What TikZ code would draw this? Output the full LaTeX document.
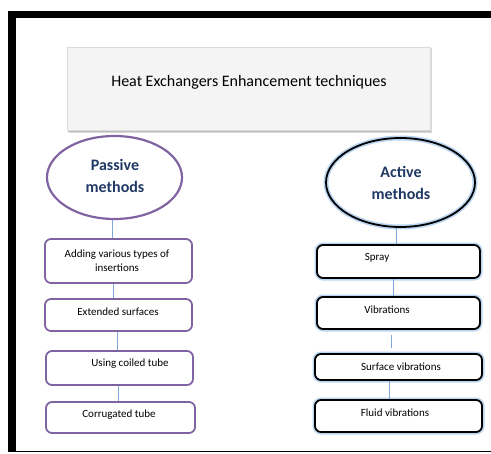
\documentclass[tikz,border=0pt]{standalone}
\usepackage{fontspec}
\setmainfont{Carlito}
\usetikzlibrary{shapes.geometric}
\definecolor{purp}{HTML}{8064A2}
\definecolor{navy}{HTML}{1F3864}
\definecolor{conn}{HTML}{7FA7D9}
\definecolor{glow}{HTML}{A9CBEE}
\definecolor{tfill}{HTML}{F4F4F4}
\definecolor{tdraw}{HTML}{DADADA}
\tikzset{
  pbox/.style={draw=purp, line width=1.8bp, rounded corners=6bp, fill=white, inner sep=0pt},
  abox/.style={draw=black, line width=1.8bp, rounded corners=6bp, fill=white, inner sep=0pt,
    preaction={draw=glow, line width=5bp, opacity=0.8}},
  btxt/.style={font=\fontsize{11bp}{14.5bp}\selectfont, align=center, inner sep=0pt},
  etxt/.style={font=\fontsize{16bp}{22bp}\selectfont\bfseries, text=navy, align=center, inner sep=0pt},
  conline/.style={draw=conn, line width=0.8bp},
}
\begin{document}
\begin{tikzpicture}[x=1bp,y=-1bp]
\useasboundingbox (0,0) rectangle (491,454);
% frame
\fill[black] (8,11) rectangle (490.5,18.5);
\fill[black] (8,11) rectangle (15.5,452);
\fill[black] (8,450.8) rectangle (490.5,452.2);
% title box
\fill[gray!30] (68.5,48.5) rectangle (432,133);
\fill[gray!50] (68,130) rectangle (431,132);
\node[draw=tdraw, fill=tfill, line width=0.8bp, minimum width=363bp, minimum height=83bp, inner sep=0pt] (title) at (248.5,88.5) {};
\node[font=\fontsize{16bp}{19bp}\selectfont, inner sep=0pt] (titletxt) at (249,82) {Heat Exchangers Enhancement techniques};
% ellipses
\node[draw=purp, line width=2.2bp, ellipse, minimum width=135bp, minimum height=83bp, inner sep=0pt] (passive) at (114.5,177.5) {};
\node[etxt] (passivetxt) at (115,176) {Passive\\methods};
\node[draw=black, line width=1.8bp, ellipse, minimum width=149bp, minimum height=89bp, inner sep=0pt,
  preaction={draw=glow, line width=5bp, opacity=0.8}] (active) at (400.5,182.5) {};
\node[etxt] (activetxt) at (401,183) {Active\\methods};
% left boxes
\node[pbox, minimum width=147bp, minimum height=44bp] (l1) at (118.5,261) {};
\node[pbox, minimum width=147bp, minimum height=32bp] (l2) at (118.5,315) {};
\node[pbox, minimum width=147bp, minimum height=34bp] (l3) at (119.5,368) {};
\node[pbox, minimum width=149bp, minimum height=31bp] (l4) at (120.5,417.5) {};
\node[btxt] (l1t) at (117,260.5) {Adding various types of\\insertions};
\node[btxt] (l2t) at (118,312) {Extended surfaces};
\node[btxt] (l3t) at (130,363.5) {Using coiled tube};
\node[btxt] (l4t) at (119,414.5) {Corrugated tube};
% right boxes
\node[abox, minimum width=163bp, minimum height=33bp] (r1) at (398.5,261.5) {};
\node[abox, minimum width=163bp, minimum height=32bp] (r2) at (398.5,313) {};
\node[abox, minimum width=167bp, minimum height=26bp] (r3) at (398.5,367) {};
\node[abox, minimum width=167bp, minimum height=32bp] (r4) at (398.5,416) {};
\node[btxt] (r1t) at (377,258) {Spray};
\node[btxt] (r2t) at (387,309.5) {Vibrations};
\node[btxt] (r3t) at (401,367) {Surface vibrations};
\node[btxt] (r4t) at (395,412.5) {Fluid vibrations};
% connectors
\draw[conline] (passive.south -| 112,0) -- (l1.north -| 112,0);
\draw[conline] (l1.south -| 113,0) -- (l2.north -| 113,0);
\draw[conline] (l2.south -| 117,0) -- (l3.north -| 117,0);
\draw[conline] (l3.south -| 118,0) -- (l4.north -| 118,0);
\draw[conline] (active.south -| 396,0) -- (r1.north -| 396,0);
\draw[conline] (r1.south -| 393,0) -- (r2.north -| 393,0);
\draw[conline, shorten <=5bp, shorten >=5bp] (r2.south -| 391,0) -- (r3.north -| 391,0);
\draw[conline] (r3.south -| 389,0) -- (r4.north -| 389,0);
\end{tikzpicture}
\end{document}
